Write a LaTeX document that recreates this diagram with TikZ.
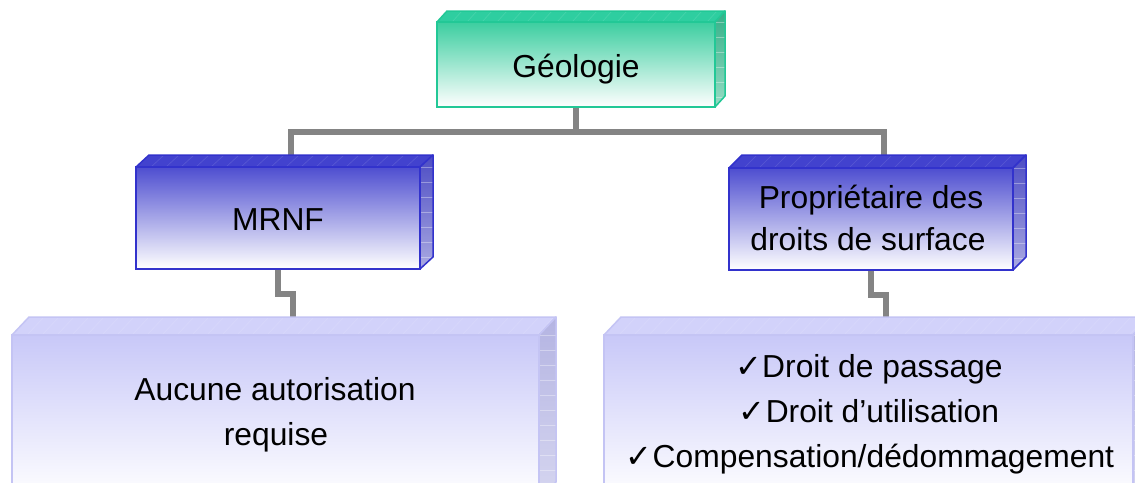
\documentclass[tikz,border=0pt]{standalone}
\usepackage{fontspec}
\setmainfont{Liberation Sans}
\newfontfamily\chkfont{DejaVu Sans}
\newcommand\chk{{\chkfont\fontsize{32}{32}\selectfont ✓}}
\usetikzlibrary{calc}
\definecolor{gTop}{RGB}{46,206,160}
\definecolor{gFront}{RGB}{60,206,160}
\definecolor{gEdge}{RGB}{34,200,150}
\definecolor{gSide}{RGB}{52,176,136}
\definecolor{gSideB}{RGB}{150,220,196}
\definecolor{bTop}{RGB}{66,66,206}
\definecolor{bFront}{RGB}{78,78,208}
\definecolor{bEdge}{RGB}{50,50,204}
\definecolor{bSide}{RGB}{76,76,196}
\definecolor{bSideB}{RGB}{170,170,226}
\definecolor{lTop}{RGB}{210,210,250}
\definecolor{lFront}{RGB}{200,200,248}
\definecolor{lEdge}{RGB}{196,196,244}
\definecolor{lSide}{RGB}{180,180,226}
\definecolor{lSideB}{RGB}{214,214,240}
\definecolor{connc}{RGB}{132,132,132}
% #1 name, #2 x1, #3 y1, #4 x2, #5 y2, #6 dx, #7 dy, #8 colour prefix
\newcommand\tdbox[8]{%
  \pgfmathsetmacro\bw{#4-#2}%
  \pgfmathsetmacro\bh{#5-#3}%
  \pgfmathsetmacro\bxa{#2+#6}%
  \pgfmathsetmacro\bxb{#4+#6}%
  \pgfmathsetmacro\bya{#3-#7}%
  \pgfmathsetmacro\byb{#5-#7}%
  \pgfmathsetmacro\bxs{#2+15}%
  \pgfmathsetmacro\bys{#3+15}%
  \pgfmathsetmacro\bcx{(#2+#4)/2}%
  \pgfmathsetmacro\bcy{(#3+#5)/2}%
  % top face
  \begin{scope}
    \clip (#2,#3) -- (\bxa,\bya) -- (\bxb,\bya) -- (#4,#3) -- cycle;
    \fill[#8Top] (#2,\bya) rectangle (\bxb,#3);
    \foreach \xx in {#2,\bxs,...,#4} \draw[white,opacity=0.12,line width=0.6pt] ([xshift=#6pt]\xx,\bya) -- (\xx,#3);
  \end{scope}
  \draw[#8Edge,line width=1.5pt,line join=round] (#2,#3) -- (\bxa,\bya) -- (\bxb,\bya) -- (#4,#3);
  % side face
  \begin{scope}
    \clip (#4,#3) -- (\bxb,\bya) -- (\bxb,\byb) -- (#4,#5) -- cycle;
    \shade[top color=#8Side,bottom color=#8SideB] (#4,\bya) rectangle (\bxb,#5);
    \foreach \yy in {#3,\bys,...,#5} \draw[white,opacity=0.35,line width=0.6pt] (#4,\yy) -- (\bxb,\yy);
  \end{scope}
  \draw[#8Edge,line width=1.5pt,line join=round] (#4,#3) -- (\bxb,\bya) -- (\bxb,\byb) -- (#4,#5);
  % front face
  \node[frontbox,top color=#8Front,bottom color=white,
        minimum width=\bw pt,minimum height=\bh pt] (#1) at (\bcx,\bcy) {};
  \draw[#8Edge,line width=1.8pt] (#1.north west) rectangle (#1.south east);
}
\begin{document}
\begin{tikzpicture}[x=1pt,y=-1pt,
  frontbox/.style={rectangle,inner sep=0pt,outer sep=0pt},
  lbl/.style={font=\fontsize{31.8}{38}\selectfont,anchor=base,inner sep=0pt},
  connline/.style={draw=connc,line width=5.5pt,line join=miter}]
\useasboundingbox (0,0) rectangle (1135,482);
\fill[white] (0,0) rectangle (1135,482);
% anchor points on the top faces
\coordinate (mtop) at (291,155);
\coordinate (ptop) at (884,155);
\coordinate (hub) at (576,132);
\coordinate (bltop) at (293,317);
\coordinate (brtop) at (886,317);
% connectors (drawn first, boxes cover the ends)
\coordinate (geobot) at (576,107);
\draw[connline] (geobot) -- (hub);
\draw[connline] (mtop) |- (hub) -| (ptop);
\coordinate (mbot) at (278,269);
\coordinate (pbot) at (871,270);
\draw[connline] (mbot) -- ++(0,25) -| (bltop);
\draw[connline] (pbot) -- ++(0,25) -| (brtop);
% boxes
\tdbox{geo}{437}{22}{715}{107}{10}{11}{g}
\tdbox{mrnf}{136}{167}{420}{269}{13}{12}{b}
\tdbox{prop}{729}{168}{1013}{270}{13}{13}{b}
\tdbox{bl}{12}{335}{539}{500}{17}{18}{l}
\tdbox{br}{604}{335}{1133}{500}{17}{18}{l}
% texts
\node[lbl] (tgeo) at (576,77) {Géologie};
\node[lbl] (tmrnf) at (278,230) {MRNF};
\node[lbl] (tprop1) at (871,208) {Propriétaire des};
\node[lbl] (tprop2) at (868,250.5) {droits de surface};
\node[lbl] (tbl1) at (275,400) {Aucune autorisation};
\node[lbl] (tbl2) at (276,445) {requise};
\node[lbl] (tbr1) at (869,377) {\chk Droit de passage};
\node[lbl] (tbr2) at (869,422) {\chk Droit d’utilisation};
\node[lbl] (tbr3) at (870,467) {\chk Compensation/dédommagement};
\end{tikzpicture}
\end{document}
